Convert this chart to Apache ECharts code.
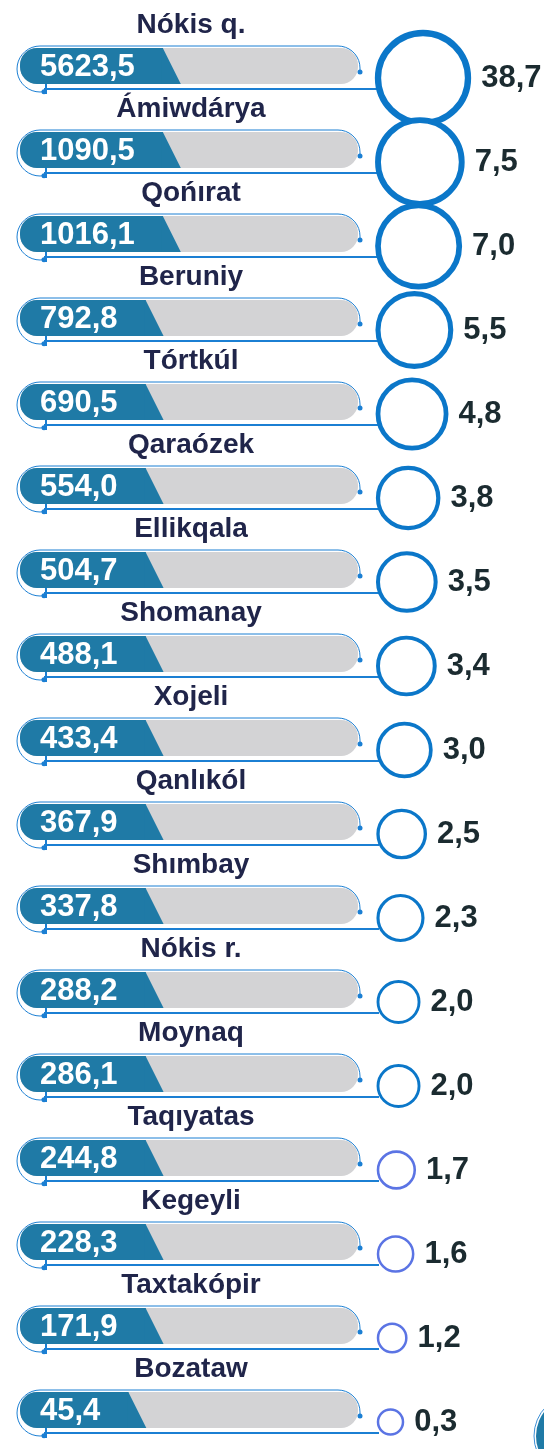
<!DOCTYPE html>
<html>
<head>
<meta charset="utf-8">
<script src="https://cdn.jsdelivr.net/npm/echarts@6/dist/echarts.min.js"></script>
<style>
  html, body { margin: 0; padding: 0; background: #fff; }
  #main { width: 544px; height: 1449px; }
</style>
</head>
<body>
<div id="main"></div>
<script>
// districts, values and shares (%)
var names = ['Nókis q.', 'Ámiwdárya', 'Qońırat', 'Beruniy', 'Tórtkúl', 'Qaraózek', 'Ellikqala', 'Shomanay',
    'Xojeli', 'Qanlıkól', 'Shımbay', 'Nókis r.', 'Moynaq', 'Taqıyatas', 'Kegeyli', 'Taxtakópir', 'Bozataw'];
var values = [5623.5, 1090.5, 1016.1, 792.8, 690.5, 554.0, 504.7, 488.1, 433.4, 367.9, 337.8, 288.2, 286.1, 244.8, 228.3, 171.9, 45.4];
var shares = [38.7, 7.5, 7.0, 5.5, 4.8, 3.8, 3.5, 3.4, 3.0, 2.5, 2.3, 2.0, 2.0, 1.7, 1.6, 1.2, 0.3];

var FONT = '"Liberation Sans", Arial, sans-serif';
var TAB = '#1f7aa6', TRACK = '#d3d3d5', LINE = '#1b7fd3', NAME = '#20254a', PCT = '#1b2b30';

function fmt(v) {
    return v.toFixed(1).replace('.', ',');
}

// width of the white value text, used to size the blue tab
var ctx = document.createElement('canvas').getContext('2d');
ctx.font = 'bold 31px ' + FONT;
function textWidth(s) {
    return ctx.measureText(s).width;
}

// circle size grows with the share (log-like, capped)
function circleSize(p) {
    var s = 41 * Math.log(1 + p) - 4;
    return Math.max(25, Math.min(90, s));
}

function renderRow(params, api) {
    var i = params.dataIndex;
    var p0 = api.coord([0, i]);
    var p1 = api.coord([100, i]);
    var left = p0[0], right = p1[0], cy = p0[1];
    var top = cy - 18, bottom = cy + 18;
    var label = fmt(api.value(1));
    var tw = 20 + textWidth(label) + 28;

    // thin outline round the bar
    var pts = [];
    var R = 23, lcx = left + 20, lcy = cy + 3;
    for (var a = 80; a <= 270; a += 10) {
        var t = a * Math.PI / 180;
        pts.push([lcx + R * Math.cos(t), lcy + R * Math.sin(t)]);
    }
    var rcx = right - 20, rcy = cy + 2, R2 = 22;
    for (var b = 270; b <= 360; b += 10) {
        var u = b * Math.PI / 180;
        pts.push([rcx + R2 * Math.cos(u), rcy + R2 * Math.sin(u)]);
    }
    pts.push([right + 2, cy + 6]);

    var uy = cy + 23;
    return {
        type: 'group',
        children: [
            {type: 'rect', shape: {x: left, y: top, width: right - left, height: 36, r: 17}, style: {fill: TRACK}},
            {type: 'rect', shape: {x: left, y: top, width: tw, height: 36, r: [17, 0, 0, 17]}, style: {fill: TAB}},
            {type: 'polygon', shape: {points: [[left + tw - 1, top], [left + tw, top], [left + tw + 18, bottom], [left + tw - 1, bottom]]}, style: {fill: TAB}},
            {type: 'polyline', shape: {points: pts}, style: {stroke: LINE, lineWidth: 1, fill: null}},
            {type: 'circle', shape: {cx: right + 2, cy: cy + 6, r: 2.5}, style: {fill: LINE}},
            {type: 'circle', shape: {cx: lcx + R * Math.cos(80 * Math.PI / 180), cy: lcy + R * Math.sin(80 * Math.PI / 180), r: 2.5}, style: {fill: LINE}},
            {type: 'line', shape: {x1: left + 24, y1: uy, x2: right + 21, y2: uy}, style: {stroke: LINE, lineWidth: 2}},
            {type: 'line', shape: {x1: left + 26, y1: uy - 5, x2: left + 26, y2: uy + 5}, style: {stroke: LINE, lineWidth: 2}},
            {type: 'text', x: left + 20, y: cy + 1, style: {text: label, fill: '#fff', font: 'bold 31px ' + FONT, verticalAlign: 'middle', align: 'left'}},
            {type: 'text', x: (left + right) / 2 + 2, y: cy - 41, style: {text: names[i], fill: NAME, font: 'bold 28px ' + FONT, verticalAlign: 'middle', align: 'center'}}
        ]
    };
}

var circles = shares.map(function (p, i) {
    var s = circleSize(p);
    return {
        value: [100, i, p],
        symbolSize: s,
        symbolOffset: [20 + s / 2, 12],
        itemStyle: {
            color: '#fff',
            opacity: 1,
            borderColor: p >= 2 ? '#0b77c9' : '#5b74e4',
            borderWidth: Math.max(2.5, s * 0.07)
        }
    };
});

var myChart = echarts.init(document.getElementById('main'), null, {renderer: 'canvas'});

var option = {
    animation: false,
    grid: {left: 20, right: 186, top: 66, bottom: 39},
    xAxis: {type: 'value', min: 0, max: 100, show: false},
    yAxis: {type: 'category', data: names, inverse: true, boundaryGap: false, show: false},
    graphic: [
        {type: 'circle', shape: {cx: 576, cy: 1436, r: 42}, style: {fill: 'none', stroke: '#3d8fd6', lineWidth: 1}},
        {type: 'circle', shape: {cx: 576, cy: 1436, r: 40}, style: {fill: TAB}}
    ],
    series: [
        {
            type: 'custom',
            data: names.map(function (n, i) { return [n, values[i]]; }),
            encode: {y: 0},
            renderItem: renderRow
        },
        {
            type: 'scatter',
            symbol: 'circle',
            data: circles,
            label: {
                show: true,
                position: 'right',
                distance: 10,
                formatter: function (params) { return fmt(params.value[2]); },
                color: PCT,
                fontFamily: FONT,
                fontWeight: 'bold',
                fontSize: 31
            }
        }
    ]
};

myChart.setOption(option);
</script>
</body>
</html>
